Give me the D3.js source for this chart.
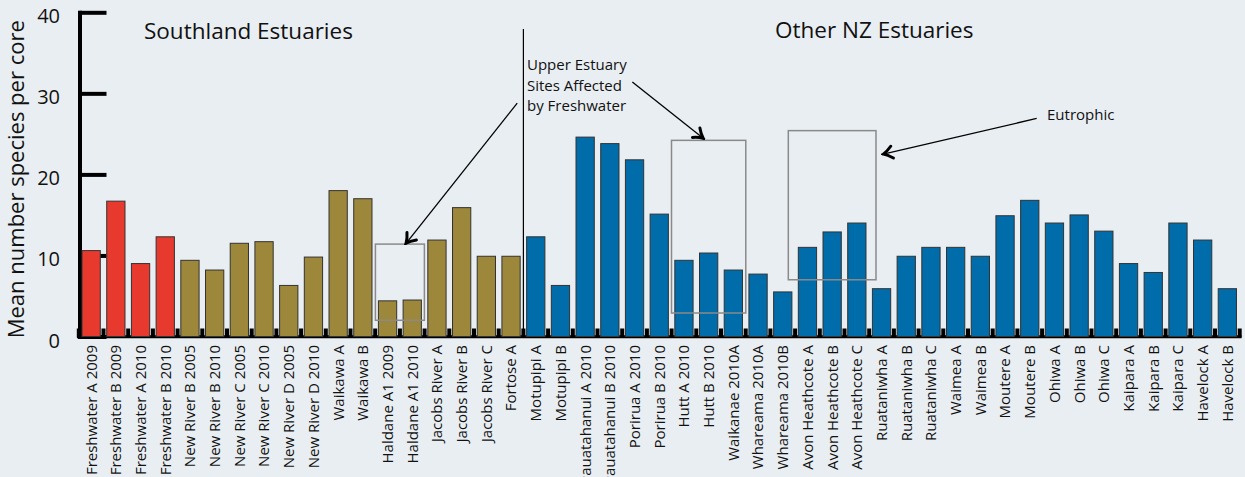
<!DOCTYPE html>
<html>
<head>
  <meta charset="utf-8">
  <title>Mean number species per core</title>
  <script src="https://d3js.org/d3.v7.min.js"></script>
  <style>
    body { margin: 0; background: #e9eef2; }
    svg { display: block; font-family: "Open Sans", sans-serif; }
  </style>
</head>
<body>
<svg id="chart" width="1245" height="477"></svg>
<script>
// site names, in plotting order
var southland = ["Freshwater A 2009", "Freshwater B 2009", "Freshwater A 2010", "Freshwater B 2010",
  "New River B 2005", "New River B 2010", "New River C 2005", "New River C 2010",
  "New River D 2005", "New River D 2010", "Waikawa A", "Waikawa B",
  "Haldane A1 2009", "Haldane A1 2010", "Jacobs River A", "Jacobs River B",
  "Jacobs River C", "Fortose A"];
var otherNZ = ["Motupipi A", "Motupipi B", "Pauatahanui A 2010", "Pauatahanui B 2010",
  "Porirua A 2010", "Porirua B 2010", "Hutt A 2010", "Hutt B 2010", "Waikanae 2010A",
  "Whareama 2010A", "Whareama 2010B", "Avon Heathcote A", "Avon Heathcote B",
  "Avon Heathcote C", "Ruataniwha A", "Ruataniwha B", "Ruataniwha C", "Waimea A",
  "Waimea B", "Moutere A", "Moutere B", "Ohiwa A", "Ohiwa B", "Ohiwa C",
  "Kaipara A", "Kaipara B", "Kaipara C", "Havelock A", "Havelock B"];

// mean species per core
var southlandValues = [10.6, 16.7, 9.0, 12.3, 9.4, 8.2, 11.5, 11.7, 6.3, 9.8, 18.0, 17.0,
  4.4, 4.5, 11.9, 15.9, 9.9, 9.9];
var otherValues = [12.3, 6.3, 24.6, 23.8, 21.8, 15.1, 9.4, 10.3, 8.2, 7.7, 5.5, 11.0, 12.9,
  14.0, 5.9, 9.9, 11.0, 11.0, 9.9, 14.9, 16.8, 14.0, 15.0, 13.0, 9.0, 7.9, 14.0, 11.9, 5.9];

// the first four southland sites are the Freshwater ones (red)
var freshwaterSites = southland.slice(0, 4);

var yTicks = [0, 10, 20, 30, 40];

// grey boxes: first site, last site, low value, high value
var boxes = [
  {from: "Haldane A1 2009", to: "Haldane A1 2010", lo: 2.0, hi: 11.4, pad: 3},
  {from: "Hutt A 2010", to: "Waikanae 2010A", lo: 2.9, hi: 24.2, pad: 3.3},
  {from: "Avon Heathcote A", to: "Avon Heathcote C", lo: 7.0, hi: 25.4, pad: 10}
];
// arrows: [band index, value] start -> end
var arrows = [
  [[17.62, 28.8], [13.12, 11.5]],
  [[22.28, 31.4], [25.15, 24.45]],
  [[38.65, 26.9], [32.44, 22.5]]
];

var cats = southland.concat(otherNZ);
var vals = southlandValues.concat(otherValues);
var data = cats.map(function(c, i) {
  var col = "#006ca9";
  if (i < southland.length) col = freshwaterSites.indexOf(c) >= 0 ? "#e8392f" : "#9c873a";
  return {name: c, value: vals[i], color: col};
});

var svg = d3.select("#chart");
svg.append("rect").attr("width", 1245).attr("height", 477).attr("fill", "#e9eef2");

var x = d3.scaleBand()
    .domain(cats)
    .range([78.8, 1239.7])
    .paddingInner(0.26)
    .paddingOuter(0.13);
var y = d3.scaleLinear()
    .domain([0, 40])
    .range([336.5, 12.3]);

var step = x.step(), bw = x.bandwidth();
function xi(i) { return x(cats[0]) + i * step; }

// y axis (thick line with ticks pointing right)
var yAxis = svg.append("g")
    .attr("transform", "translate(79.5,0)")
    .call(d3.axisRight(y).tickValues(yTicks).tickSize(27).tickSizeOuter(0).tickFormat(""));
yAxis.select(".domain").attr("stroke", "#000").attr("stroke-width", 4)
    .attr("stroke-linecap", "square");
yAxis.selectAll(".tick line").attr("stroke", "#000").attr("stroke-width", 4);

svg.selectAll(".ylab")
    .data(yTicks)
  .enter().append("text")
    .attr("class", "ylab")
    .attr("x", 60)
    .attr("y", function(d) { return y(d) + 4; })
    .attr("dy", "0.35em")
    .attr("text-anchor", "end")
    .attr("font-size", "20px")
    .attr("fill", "#111")
    .text(function(d) { return d; });

svg.append("text")
    .attr("transform", "translate(24," + ((y(0) + 22) / 2) + ") rotate(-90)")
    .attr("text-anchor", "middle")
    .attr("font-size", "22px")
    .attr("fill", "#111")
    .text("Mean number species per core");

// x axis baseline with little ticks between the bars
svg.append("line")
    .attr("x1", 77).attr("x2", 1241.5)
    .attr("y1", y(0) + 0.3).attr("y2", y(0) + 0.3)
    .attr("stroke", "#000").attr("stroke-width", 3);

var gapTicks = d3.range(cats.length + 1).map(function(i) {
  return x(cats[0]) - (step - bw) / 2 + i * step;
});
svg.selectAll(".gaptick")
    .data(gapTicks)
  .enter().append("rect")
    .attr("class", "gaptick")
    .attr("x", function(d) { return d - 2; })
    .attr("y", y(0) - 8)
    .attr("width", 4)
    .attr("height", 9)
    .attr("fill", "#000");

// bars
svg.selectAll(".bar")
    .data(data)
  .enter().append("rect")
    .attr("class", "bar")
    .attr("x", function(d) { return x(d.name); })
    .attr("y", function(d) { return y(d.value); })
    .attr("width", bw)
    .attr("height", function(d) { return y(0) - y(d.value); })
    .attr("fill", function(d) { return d.color; })
    .attr("stroke", "#333")
    .attr("stroke-width", 1);

// category labels
svg.selectAll(".xlab")
    .data(cats)
  .enter().append("text")
    .attr("class", "xlab")
    .attr("transform", function(d) {
      return "translate(" + (x(d) + bw / 2) + ",345) rotate(-90)";
    })
    .attr("dy", "0.36em")
    .attr("text-anchor", "end")
    .attr("font-size", "15px")
    .attr("fill", "#111")
    .text(function(d) { return d; });

// divider between the two groups
var divX = x(otherNZ[0]) - (step - bw) / 2;
svg.append("line")
    .attr("x1", divX).attr("x2", divX)
    .attr("y1", 29).attr("y2", y(0))
    .attr("stroke", "#000").attr("stroke-width", 1.2);

// group titles
svg.append("text").attr("x", 144).attr("y", 38.5)
    .attr("font-size", "22.5px").attr("fill", "#111").text("Southland Estuaries");
svg.append("text").attr("x", 775).attr("y", 37.5)
    .attr("font-size", "22.5px").attr("fill", "#111").text("Other NZ Estuaries");

// grey boxes
svg.selectAll(".box")
    .data(boxes)
  .enter().append("rect")
    .attr("class", "box")
    .attr("x", function(d) { return x(d.from) - d.pad; })
    .attr("y", function(d) { return y(d.hi); })
    .attr("width", function(d) { return x(d.to) + bw - x(d.from) + 2 * d.pad; })
    .attr("height", function(d) { return y(d.lo) - y(d.hi); })
    .attr("fill", "none")
    .attr("stroke", "#8a8a8a")
    .attr("stroke-width", 1.5);

// arrows
svg.append("defs").append("marker")
    .attr("id", "head")
    .attr("markerUnits", "userSpaceOnUse")
    .attr("viewBox", "-12 -8 14 16")
    .attr("refX", 0).attr("refY", 0)
    .attr("markerWidth", 14).attr("markerHeight", 16)
    .attr("orient", "auto")
  .append("path")
    .attr("d", "M-9,-6 Q-4,-1.5 0,0 Q-4,1.5 -9,6")
    .attr("fill", "none")
    .attr("stroke", "#000")
    .attr("stroke-width", 3)
    .attr("stroke-linecap", "round");

svg.selectAll(".arrow")
    .data(arrows)
  .enter().append("line")
    .attr("class", "arrow")
    .attr("x1", function(d) { return xi(d[0][0]); })
    .attr("y1", function(d) { return y(d[0][1]); })
    .attr("x2", function(d) { return xi(d[1][0]); })
    .attr("y2", function(d) { return y(d[1][1]); })
    .attr("stroke", "#000")
    .attr("stroke-width", 1.3)
    .attr("marker-end", "url(#head)");

// annotation text
var note = svg.append("text").attr("font-size", "15px").attr("fill", "#111");
["Upper Estuary", "Sites Affected", "by Freshwater"].forEach(function(t, i) {
  note.append("tspan").attr("x", 527).attr("y", 70 + i * 20.5).text(t);
});
svg.append("text").attr("x", 1047).attr("y", 119.5)
    .attr("font-size", "15px").attr("fill", "#111").text("Eutrophic");
</script>
</body>
</html>
